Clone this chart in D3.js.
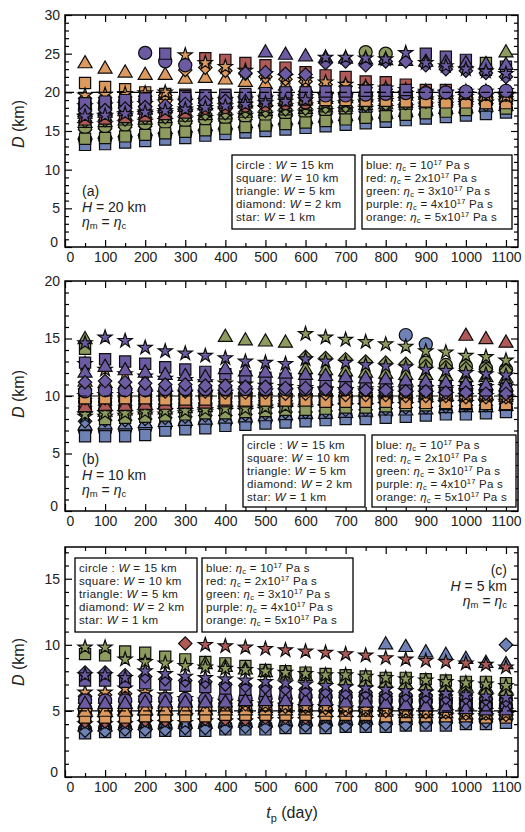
<!DOCTYPE html>
<html>
<head>
<meta charset="utf-8">
<script src="https://cdn.jsdelivr.net/npm/d3@7"></script>
<style>
  body { margin: 0; background: #fff; }
  svg text { font-family: "Liberation Sans", Arial, sans-serif; fill: #222; }
</style>
</head>
<body>
<svg id="chart" width="525" height="832"></svg>
<script>
'use strict';

//time of the pulses (day)
const tDays = [50, 100, 150, 200, 250, 300, 350, 400, 450, 500, 550, 600, 650, 700, 750, 800, 850, 900, 950, 1000, 1050, 1100];
const xTickVals = [0, 100, 200, 300, 400, 500, 600, 700, 800, 900, 1000, 1100];
const shapeNames = ['circle', 'square', 'triangle', 'diamond', 'star'];
const shapeW = [15, 10, 5, 2, 1];
const colorNames = ['blue', 'red', 'green', 'purple', 'orange'];
const etaCoef = ['', '2x', '3x', '4x', '5x'];

//panel (a), H = 20 km. rows: circle, square, triangle, diamond, star
const aBlue = [
  [13.9,14.0,14.1,14.3,14.5,14.7,15.0,15.2,15.4,15.6,15.8,16.0,16.2,16.4,16.6,16.8,17.0,17.2,17.4,17.5,17.7,17.9],
  [13.2,13.3,13.5,13.7,13.9,14.1,14.4,14.6,14.8,15.0,15.2,15.4,15.6,15.8,16.0,16.2,16.4,16.6,16.8,17.0,17.2,17.4],
  [14.5,14.6,14.8,15.0,15.2,15.4,15.6,15.8,16.0,16.2,16.4,16.5,16.7,16.9,17.1,17.2,17.4,17.6,17.8,17.9,18.1,18.2],
  [15.2,15.3,15.5,15.6,15.8,16.0,16.2,16.3,16.5,16.7,16.9,17.0,17.2,17.3,17.5,17.6,17.8,17.9,18.1,18.2,18.4,18.5],
  [15.8,15.9,16.0,16.2,16.3,16.5,16.7,16.8,17.0,17.1,17.3,17.4,17.6,17.7,17.9,18.0,18.1,18.3,18.4,18.5,18.7,18.8]
];
const aRed = [
  [17.0,17.1,17.3,17.5,17.6,17.8,18.0,18.1,18.3,18.4,18.6,18.7,18.9,19.0,19.1,19.2,19.4,19.5,19.6,19.7,19.8,19.9],
  [16.5,16.6,16.8,17.0,17.2,17.4,24.4,24.2,23.8,23.5,23.2,22.6,22.2,22.0,21.4,21.3,21.0,20.3,20.3,19.9,19.7,19.6],
  [17.4,17.5,17.6,17.8,18.0,18.1,18.3,18.4,18.5,18.7,18.8,18.9,19.1,19.2,19.3,19.4,19.5,19.6,19.7,19.8,19.9,20.0],
  [17.8,17.9,18.0,18.2,18.3,18.5,18.6,18.7,18.8,19.0,19.1,19.2,19.3,19.4,19.5,19.6,19.7,19.8,19.9,20.0,20.0,20.1],
  [18.2,18.3,18.4,18.5,18.7,18.8,18.9,19.0,19.1,19.2,19.3,19.4,19.5,19.6,19.7,19.8,19.8,19.9,20.0,20.1,20.1,20.2]
];
const aGreen = [
  [15.5,15.6,15.8,16.0,16.1,16.3,16.5,16.7,16.9,17.0,17.2,17.4,17.6,17.8,25.2,25.0,18.2,18.4,18.5,18.7,18.8,19.0],
  [14.0,14.1,14.3,14.5,14.7,14.9,15.1,15.3,15.5,15.7,15.9,16.1,16.3,16.5,16.7,16.9,17.1,17.3,17.5,17.7,23.8,17.9],
  [16.0,16.1,16.3,16.4,16.6,16.8,17.0,17.1,17.3,17.5,17.6,17.8,18.0,18.1,18.3,18.4,18.6,18.7,18.9,19.0,19.1,25.1],
  [16.3,16.4,16.5,16.7,16.8,17.0,17.2,17.3,17.5,17.6,17.8,17.9,18.1,18.2,18.4,18.5,18.6,18.8,18.9,19.0,19.2,19.3],
  [16.8,16.9,17.0,17.2,17.3,17.5,17.6,17.8,17.9,18.0,18.2,18.3,18.5,18.6,18.7,18.9,19.0,19.1,19.2,19.4,19.5,19.6]
];
const aPurple = [
  [18.0,18.1,18.3,25.1,24.0,23.5,19.0,19.1,19.2,19.3,19.4,19.5,19.6,19.6,19.7,19.8,19.9,19.9,20.0,20.1,20.1,20.2],
  [18.6,18.8,19.0,19.2,25.0,19.5,19.6,19.7,19.8,19.9,20.0,20.0,20.1,20.1,20.2,20.2,20.3,25.0,24.6,24.2,22.9,23.3],
  [17.2,17.3,17.5,17.7,17.9,18.1,18.3,18.5,18.7,25.1,24.8,24.6,24.4,24.3,24.2,24.1,24.0,23.9,23.8,23.7,23.6,23.5],
  [17.6,17.7,17.9,18.1,18.3,18.5,18.7,18.9,22.5,22.6,22.4,22.3,23.8,24.0,23.5,24.0,24.0,23.5,23.0,22.8,22.5,22.0],
  [16.9,17.0,17.2,17.4,17.6,17.8,18.0,18.2,18.4,18.6,18.8,19.0,24.5,24.5,24.4,24.3,25.1,23.8,23.4,23.0,22.7,22.4]
];
const aOrange = [
  [18.6,18.7,18.9,19.0,19.1,19.2,19.3,19.4,19.5,19.5,19.6,19.6,19.7,19.7,19.8,19.8,19.8,19.9,19.9,19.9,20.0,20.0],
  [21.2,20.7,20.4,20.0,19.8,19.7,19.6,19.5,19.4,19.3,19.2,19.1,19.0,19.0,18.9,18.9,18.8,18.8,18.7,18.7,18.6,18.6],
  [23.7,23.0,22.5,22.2,22.2,21.7,21.8,21.6,21.3,21.0,20.8,20.6,20.4,20.3,20.1,20.0,19.9,19.8,19.7,19.6,19.5,19.4],
  [19.2,19.3,19.4,19.5,19.6,22.9,23.2,22.8,22.4,22.0,21.7,21.4,21.0,20.8,20.6,20.4,20.2,20.1,20.0,19.9,19.8,19.7],
  [19.6,19.7,19.8,19.9,20.0,24.8,23.8,23.3,22.8,22.4,22.0,21.6,21.3,21.0,20.7,20.5,20.3,20.1,19.9,19.8,19.6,19.5]
];

//panel (b), H = 10 km
const bBlue = [
  [7.0,7.0,7.1,7.2,7.4,7.5,7.6,7.7,7.8,7.9,8.0,8.1,8.2,8.3,8.3,8.4,15.3,14.5,8.7,8.8,8.8,8.9],
  [6.5,6.5,6.5,6.6,7.0,7.1,7.2,7.4,7.5,7.6,7.7,7.8,7.9,8.0,8.0,8.1,8.2,8.3,8.4,8.4,8.5,8.6],
  [7.4,7.5,7.5,7.6,7.7,7.8,7.9,8.0,8.1,8.2,8.3,8.4,8.4,8.5,8.6,8.7,8.7,8.8,8.9,9.0,9.0,9.1],
  [7.8,7.9,7.9,8.0,8.1,8.2,8.3,8.3,8.4,8.5,8.6,8.6,8.7,8.8,8.8,8.9,9.0,9.0,9.1,9.2,9.2,9.3],
  [8.2,8.2,8.3,8.4,8.4,8.5,8.6,8.7,8.7,8.8,8.9,8.9,9.0,9.1,9.1,9.2,9.2,9.3,9.4,9.4,9.5,9.5]
];
const bRed = [
  [9.5,9.5,9.6,9.6,9.7,9.7,9.8,9.8,9.8,9.9,9.9,10.0,10.0,10.0,10.1,10.1,10.1,10.2,10.2,10.2,10.3,10.3],
  [9.2,9.3,9.3,9.4,9.4,9.5,9.5,9.6,9.6,9.7,9.7,9.8,9.8,9.9,9.9,10.0,10.0,10.0,10.1,10.1,10.1,10.2],
  [9.0,9.1,9.1,9.2,9.2,9.3,9.3,9.4,9.4,9.5,9.5,9.6,9.6,9.7,9.7,9.8,9.8,9.9,9.9,15.2,14.9,14.6],
  [9.8,9.8,9.9,9.9,10.0,10.0,10.0,10.1,10.1,10.1,10.2,10.2,10.2,10.3,10.3,10.3,10.4,10.4,10.4,10.5,10.5,10.5],
  [10.0,10.1,10.1,10.2,10.2,10.3,10.3,10.3,10.4,10.4,10.4,10.5,10.5,10.5,10.6,10.6,10.6,10.7,10.7,10.7,10.8,10.8]
];
const bGreen = [
  [8.8,8.8,8.9,9.0,9.0,9.1,9.2,9.2,9.3,9.4,9.4,9.5,9.5,9.6,9.6,9.7,9.7,12.9,12.7,12.6,12.4,12.3],
  [14.1,8.0,8.1,8.2,8.3,8.4,8.5,8.5,8.6,8.7,8.8,8.8,8.9,9.0,9.0,9.1,9.2,9.2,9.3,9.3,9.4,9.4],
  [14.9,8.6,8.7,8.8,8.8,8.9,9.0,15.1,14.8,14.7,14.6,12.3,12.2,12.1,12.0,11.9,11.8,11.8,11.7,11.6,11.6,11.5],
  [9.1,9.2,9.2,9.3,9.3,9.4,9.4,9.5,9.5,9.6,9.6,13.4,13.3,13.2,13.0,12.9,12.8,12.6,12.5,12.4,12.3,12.2],
  [8.4,8.5,8.5,8.6,8.7,8.7,8.8,8.9,8.9,9.0,9.1,15.4,15.1,14.9,14.7,14.5,14.3,13.9,13.8,13.5,13.4,13.1]
];
const bPurple = [
  [10.4,10.5,10.5,10.5,10.6,10.6,10.6,10.6,10.6,10.6,10.6,10.6,10.6,10.6,10.6,10.5,10.5,10.5,10.5,10.5,10.4,10.4],
  [12.9,13.2,13.0,12.8,12.5,12.3,12.1,11.9,11.7,11.6,11.5,11.4,11.3,11.2,11.1,11.0,10.9,10.8,10.8,10.7,10.6,10.6],
  [12.0,12.5,12.2,12.0,11.8,11.7,11.6,12.3,12.1,12.0,11.9,11.8,11.7,11.6,11.5,11.4,11.3,11.2,11.1,11.0,10.9,10.8],
  [11.2,11.3,11.2,11.1,11.0,11.0,10.9,10.9,10.8,10.8,10.7,10.7,10.6,10.6,10.5,10.5,10.4,10.4,10.3,10.3,10.2,10.2],
  [14.6,15.1,14.8,14.2,13.9,13.7,13.5,13.3,13.0,12.9,12.8,13.2,13.0,12.9,12.7,12.6,12.5,12.3,12.2,12.0,11.9,11.8]
];
const bOrange = [
  [10.2,10.2,10.2,10.1,10.1,10.1,10.1,10.0,10.0,10.0,10.0,9.9,9.9,9.9,9.9,9.8,9.8,9.8,9.8,9.7,9.7,9.7],
  [9.8,9.8,9.8,9.8,9.7,9.7,9.7,9.7,9.6,9.6,9.6,9.6,9.5,9.5,9.5,9.5,9.4,9.4,9.4,9.4,9.3,9.3],
  [11.2,11.1,11.0,10.9,10.8,10.8,10.7,10.6,10.6,10.5,10.5,10.4,10.4,10.3,10.3,10.2,10.2,10.1,10.1,10.0,10.0,9.9],
  [10.6,10.6,10.5,10.5,10.4,10.4,10.4,10.3,10.3,10.3,10.2,10.2,10.2,10.1,10.1,10.1,10.0,10.0,10.0,9.9,9.9,9.9],
  [12.8,12.3,11.9,11.7,11.5,11.4,11.2,11.1,11.0,10.9,10.8,10.7,10.6,10.5,10.4,10.3,10.2,10.2,10.1,10.0,10.0,9.9]
];

//panel (c), H = 5 km
const cBlue = [
  [3.6,3.7,3.7,3.7,3.8,3.8,3.8,3.9,3.9,3.9,4.0,4.0,4.0,4.1,4.1,4.1,4.2,4.2,4.2,4.3,4.3,4.4],
  [3.3,3.4,3.4,3.4,3.5,3.5,3.5,3.6,3.6,3.6,3.7,3.7,3.7,3.8,3.8,3.8,3.9,3.9,3.9,4.0,4.0,4.1],
  [3.8,3.8,3.9,3.9,4.0,4.0,4.0,4.1,4.1,4.1,4.2,4.2,4.2,4.3,4.3,10.0,9.8,9.4,9.2,8.9,8.6,8.5],
  [3.5,3.5,3.6,3.6,3.6,3.7,3.7,3.7,3.8,3.8,3.8,3.9,3.9,3.9,4.0,4.0,4.0,4.1,4.1,4.1,4.2,10.0],
  [4.0,4.0,4.0,4.1,4.1,4.1,4.2,4.2,4.2,4.3,4.3,4.3,4.4,4.4,4.4,4.5,4.5,4.5,4.6,4.6,4.6,4.7]
];
const cRed = [
  [4.8,4.8,4.8,4.9,4.9,4.9,5.0,5.0,5.0,5.0,5.1,5.1,5.1,5.1,5.1,5.2,5.2,5.2,5.2,5.3,5.3,5.3],
  [4.6,4.6,4.6,4.7,4.7,4.7,4.8,4.8,4.8,4.9,4.9,4.9,5.0,5.0,5.0,5.0,5.1,5.1,5.1,5.1,5.2,5.2],
  [5.0,5.0,5.0,5.1,5.1,5.1,5.1,5.2,5.2,5.2,5.2,5.3,5.3,5.3,5.3,5.4,5.4,5.4,5.4,5.5,5.5,5.5],
  [4.2,4.2,4.2,4.3,4.3,10.1,4.4,4.4,4.4,4.5,4.5,4.5,4.6,4.6,4.6,4.7,4.7,4.7,4.8,4.8,4.8,4.9],
  [4.4,4.4,4.5,4.5,4.5,4.6,10.0,9.9,9.8,9.7,9.6,9.5,9.4,9.3,9.2,9.0,8.9,8.8,8.7,8.6,8.5,8.3]
];
const cGreen = [
  [5.2,5.2,5.3,5.3,5.3,5.4,5.4,5.4,5.5,5.5,5.5,5.6,5.6,5.6,5.7,5.7,5.7,5.8,5.8,5.8,5.9,5.9],
  [9.3,9.2,9.5,9.4,9.1,8.9,8.7,8.6,8.4,8.1,8.0,7.9,7.8,7.7,7.6,7.5,7.5,7.4,7.3,7.2,7.2,7.1],
  [5.4,5.4,5.5,5.5,5.5,5.6,8.5,8.3,8.1,7.9,7.7,7.6,7.4,7.3,7.2,7.1,7.0,6.9,6.8,6.8,6.7,6.6],
  [5.6,5.6,5.7,5.7,5.7,5.8,5.8,5.8,5.9,5.9,5.9,6.0,6.0,6.0,6.1,6.1,6.1,6.2,6.2,6.2,6.3,6.3],
  [9.8,9.8,8.9,8.7,8.6,8.4,8.3,8.2,8.1,8.0,7.9,7.8,7.7,7.7,7.6,7.5,7.4,7.3,7.2,7.1,7.0,6.9]
];
const cPurple = [
  [5.8,5.8,5.8,5.9,5.9,5.9,5.9,6.0,6.0,6.0,6.0,6.1,6.1,6.1,6.1,5.9,5.8,5.7,5.6,5.5,5.5,5.4],
  [7.3,7.3,7.2,7.1,7.0,6.9,6.8,6.7,6.6,6.5,6.4,6.3,6.2,6.1,6.1,6.0,5.9,5.8,5.8,5.7,5.6,5.6],
  [5.5,5.5,5.5,5.6,5.6,5.6,5.6,5.6,5.7,5.7,5.7,5.7,5.7,5.6,5.6,5.5,5.4,5.3,5.2,5.1,5.0,5.0],
  [7.9,7.9,7.7,7.6,7.4,7.3,7.2,7.0,6.9,6.8,6.7,6.6,6.5,6.4,6.4,6.3,6.2,6.1,6.0,6.0,5.9,5.8],
  [7.7,7.7,7.5,8.0,7.8,7.6,7.5,7.4,7.3,7.2,7.1,7.0,6.9,6.8,6.7,6.6,6.5,6.4,6.3,6.2,6.1,6.0]
];
const cOrange = [
  [5.1,5.1,5.1,5.1,5.1,5.1,5.1,5.1,5.1,5.1,5.1,5.0,5.0,5.0,5.0,5.0,4.9,4.9,4.9,4.9,4.8,4.8],
  [4.5,4.5,4.5,4.6,4.6,4.6,4.6,4.7,4.7,4.7,4.7,4.7,4.7,4.7,4.7,4.6,4.6,4.6,4.6,4.6,4.5,4.5],
  [4.9,4.9,4.9,5.0,5.0,5.0,5.0,5.0,5.0,5.0,5.0,5.0,4.9,4.9,4.9,4.9,4.8,4.8,4.8,4.7,4.7,4.7],
  [6.1,6.2,6.3,6.1,6.0,5.8,5.7,5.6,5.5,5.4,5.3,5.3,5.2,5.1,5.1,5.0,5.0,4.9,4.9,4.8,4.8,4.7],
  [6.4,6.4,6.7,6.4,6.2,5.9,5.8,5.7,5.6,5.5,5.4,5.3,5.3,5.2,5.1,5.1,5.0,5.0,4.9,4.9,4.8,4.8]
];

const fills = { blue: '#6f82b6', red: '#b05a58', green: '#8d9c5e', purple: '#6c5ba2', orange: '#dc9a5e' };
const drawOrder = ['blue', 'green', 'red', 'orange', 'purple'];

const svg = d3.select('#chart');
const x = d3.scaleLinear().domain([0, 1130]).range([65, 518]);

const panels = [
  { tag: 'a', H: 20, top: 15, bottom: 247, yMax: 30, yTicks: [0, 5, 10, 15, 20, 25, 30],
    series: { blue: aBlue, red: aRed, green: aGreen, purple: aPurple, orange: aOrange },
    shapeBox: [232, 155, 123, 74], colorBox: [362, 155, 150, 74],
    label: { x: 82, y: 196, anchor: 'start' }, yLabelY: 124 },
  { tag: 'b', H: 10, top: 281, bottom: 511, yMax: 20, yTicks: [0, 5, 10, 15, 20],
    series: { blue: bBlue, red: bRed, green: bGreen, purple: bPurple, orange: bOrange },
    shapeBox: [243, 435, 122, 72], colorBox: [372, 435, 144, 72],
    label: { x: 82, y: 464, anchor: 'start' }, yLabelY: 394 },
  { tag: 'c', H: 5, top: 547, bottom: 777, yMax: 17.4, yTicks: [0, 5, 10, 15],
    series: { blue: cBlue, red: cRed, green: cGreen, purple: cPurple, orange: cOrange },
    shapeBox: [75, 558, 122, 74], colorBox: [202, 558, 151, 74],
    label: { x: 507, y: 575, anchor: 'end' }, yLabelY: 662 }
];

//marker generators
const symFor = {
  circle: d3.symbol(d3.symbolCircle, 135)(),
  square: d3.symbol(d3.symbolSquare, 125)(),
  triangle: d3.symbol(d3.symbolTriangle, 85)(),
  diamond: d3.symbol(d3.symbolSquare, 90)(),
  star: d3.symbol(d3.symbolStar, 62)()
};

function styleTicks(sel, size) {
  sel.select('.domain').remove();
  sel.selectAll('line').attr('stroke', '#000').attr('stroke-width', 1.2);
  sel.selectAll('text').attr('font-size', size).attr('fill', '#333')
    .attr('font-family', '"Liberation Sans", Arial, sans-serif');
}

function drawPanel(p) {
  const y = d3.scaleLinear().domain([0, p.yMax]).range([p.bottom, p.top]);
  const g = svg.append('g').attr('class', `panel-${p.tag}`);

  //markers
  drawOrder.forEach((c) => {
    p.series[c].forEach((vals, si) => {
      const shape = shapeNames[si];
      vals.forEach((v, i) => {
        g.append('path')
          .attr('d', symFor[shape])
          .attr('transform', `translate(${x(tDays[i])},${y(v)})${shape === 'diamond' ? ' rotate(45)' : ''}`)
          .attr('fill', fills[c])
          .attr('stroke', '#0d0d0d')
          .attr('stroke-width', 1.2);
      });
    });
  });

  //D = H line
  g.append('line')
    .attr('x1', x.range()[0]).attr('x2', x.range()[1])
    .attr('y1', y(p.H)).attr('y2', y(p.H))
    .attr('stroke', '#000').attr('stroke-width', 1.2)
    .attr('stroke-dasharray', '9,4');

  //ticks: bottom, top, left, right (inward)
  const xMinor = d3.range(50, 1130, 100);
  const yMinor = d3.range(0, p.yMax + 0.01, 1).filter((v) => v % 5 !== 0);
  g.append('g').attr('transform', `translate(0,${p.bottom})`)
    .call(d3.axisBottom(x).tickValues(xTickVals).tickFormat(d3.format('d'))
      .tickSizeInner(-7).tickSizeOuter(0).tickPadding(5))
    .call((s) => styleTicks(s, 14))
    .call((s) => s.selectAll('text').filter((d) => d === 0).attr('dx', 5));
  g.append('g').attr('transform', `translate(0,${p.bottom})`)
    .call(d3.axisBottom(x).tickValues(xMinor).tickSizeInner(-4).tickSizeOuter(0).tickFormat(''))
    .call((s) => styleTicks(s, 14));
  g.append('g').attr('transform', `translate(0,${p.top})`)
    .call(d3.axisTop(x).tickValues(xTickVals).tickSizeInner(-7).tickSizeOuter(0).tickFormat(''))
    .call((s) => styleTicks(s, 14));
  g.append('g').attr('transform', `translate(0,${p.top})`)
    .call(d3.axisTop(x).tickValues(xMinor).tickSizeInner(-4).tickSizeOuter(0).tickFormat(''))
    .call((s) => styleTicks(s, 14));
  g.append('g').attr('transform', `translate(${x.range()[0]},0)`)
    .call(d3.axisLeft(y).tickValues(p.yTicks).tickSizeInner(-7).tickSizeOuter(0).tickPadding(5))
    .call((s) => styleTicks(s, 14))
    .call((s) => s.selectAll('text').filter((d) => d === 0).attr('dy', '-0.05em').attr('dx', -2));
  g.append('g').attr('transform', `translate(${x.range()[0]},0)`)
    .call(d3.axisLeft(y).tickValues(yMinor).tickSizeInner(-4).tickSizeOuter(0).tickFormat(''))
    .call((s) => styleTicks(s, 14));
  g.append('g').attr('transform', `translate(${x.range()[1]},0)`)
    .call(d3.axisRight(y).tickValues(p.yTicks).tickSizeInner(-7).tickSizeOuter(0).tickFormat(''))
    .call((s) => styleTicks(s, 14));
  g.append('g').attr('transform', `translate(${x.range()[1]},0)`)
    .call(d3.axisRight(y).tickValues(yMinor).tickSizeInner(-4).tickSizeOuter(0).tickFormat(''))
    .call((s) => styleTicks(s, 14));

  //frame
  g.append('rect')
    .attr('x', x.range()[0]).attr('y', p.top)
    .attr('width', x.range()[1] - x.range()[0]).attr('height', p.bottom - p.top)
    .attr('fill', 'none').attr('stroke', '#000').attr('stroke-width', 1.5);

  //y label
  const yl = g.append('text')
    .attr('transform', `translate(24,${p.yLabelY}) rotate(-90)`)
    .attr('text-anchor', 'middle')
    .attr('font-size', 16);
  yl.append('tspan').attr('font-style', 'italic').text('D');
  yl.append('tspan').text(' (km)');

  //legends
  const sb = p.shapeBox;
  g.append('rect').attr('x', sb[0]).attr('y', sb[1]).attr('width', sb[2]).attr('height', sb[3])
    .attr('fill', '#fff').attr('stroke', '#000').attr('stroke-width', 1.3);
  shapeNames.forEach((s, i) => {
    const t = g.append('text').attr('x', sb[0] + 4).attr('y', sb[1] + 14 + 13 * i)
      .attr('font-size', 11.5).attr('letter-spacing', 0.35);
    t.append('tspan').text(s + (s === 'circle' ? ' : ' : ': '));
    t.append('tspan').attr('font-style', 'italic').text('W');
    t.append('tspan').text(` = ${shapeW[i]} km`);
  });
  const cb = p.colorBox;
  g.append('rect').attr('x', cb[0]).attr('y', cb[1]).attr('width', cb[2]).attr('height', cb[3])
    .attr('fill', '#fff').attr('stroke', '#000').attr('stroke-width', 1.3);
  colorNames.forEach((c, i) => {
    const t = g.append('text').attr('x', cb[0] + 4).attr('y', cb[1] + 14 + 13 * i)
      .attr('font-size', 11.5).attr('letter-spacing', 0.25);
    t.append('tspan').text(`${c}: `);
    t.append('tspan').attr('font-style', 'italic').text('η');
    t.append('tspan').attr('font-size', 7.5).attr('dy', 2).text('c');
    t.append('tspan').attr('dy', -2).text(` = ${etaCoef[i]}10`);
    t.append('tspan').attr('font-size', 7.5).attr('dy', -4).text('17');
    t.append('tspan').attr('dy', 4).text(' Pa s');
  });

  //panel label
  const L = p.label;
  g.append('text').attr('x', L.x).attr('y', L.y).attr('text-anchor', L.anchor)
    .attr('font-size', 14).text(`(${p.tag})`);
  const hT = g.append('text').attr('x', L.x).attr('y', L.y + 16).attr('text-anchor', L.anchor)
    .attr('font-size', 14);
  hT.append('tspan').attr('font-style', 'italic').text('H');
  hT.append('tspan').text(` = ${p.H} km`);
  const eT = g.append('text').attr('x', L.x).attr('y', L.y + 31).attr('text-anchor', L.anchor)
    .attr('font-size', 14);
  eT.append('tspan').attr('font-style', 'italic').text('η');
  eT.append('tspan').attr('font-size', 9.5).attr('dy', 2).text('m');
  eT.append('tspan').attr('dy', -2).text(' = ');
  eT.append('tspan').attr('font-style', 'italic').text('η');
  eT.append('tspan').attr('font-size', 9.5).attr('dy', 2).text('c');
}

panels.forEach(drawPanel);

//x label
const xl = svg.append('text')
  .attr('x', 292).attr('y', 818)
  .attr('text-anchor', 'middle')
  .attr('font-size', 16);
xl.append('tspan').attr('font-style', 'italic').text('t');
xl.append('tspan').attr('font-size', 11).attr('dy', 4).text('p');
xl.append('tspan').attr('dy', -4).text(' (day)');
</script>
</body>
</html>
